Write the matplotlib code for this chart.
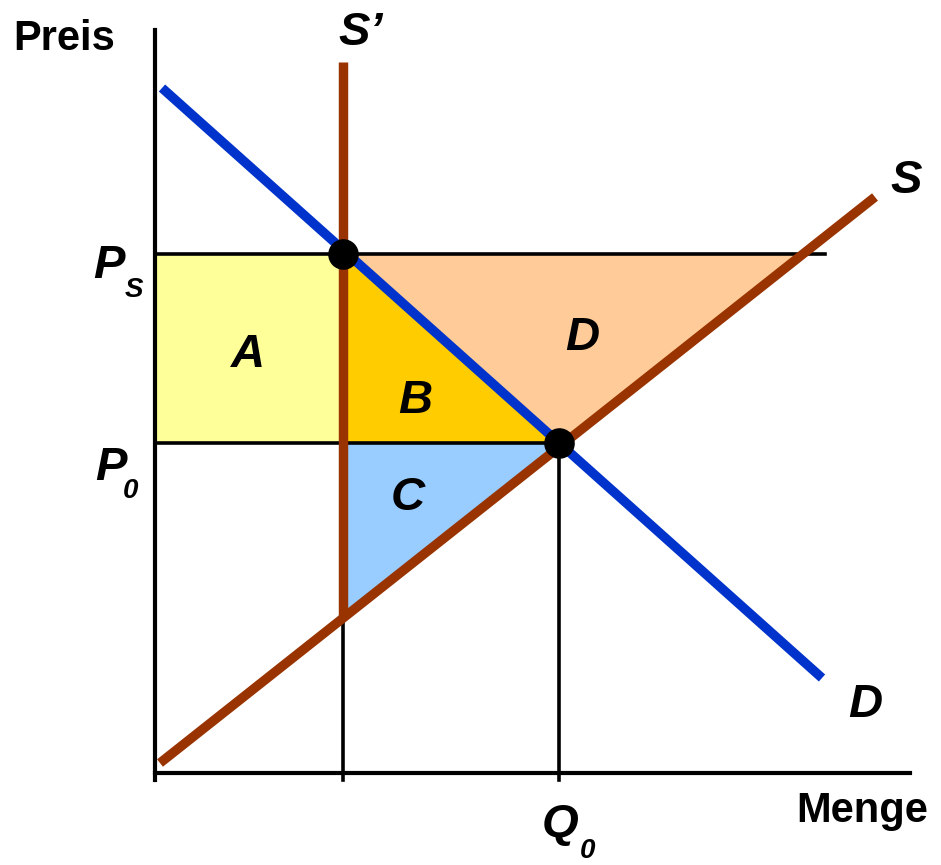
import matplotlib
matplotlib.use("Agg")
import matplotlib.pyplot as plt
import numpy as np

# Data (chart units, origin at axis corner)
q_cap = 188          # quota quantity (S' vertical)
q0 = 404             # equilibrium quantity
p_s = 519            # price with quota
p0 = 330             # equilibrium price

demand_x = [7, 667]
demand_y = [685, 95]
supply_x = [5, 720]
supply_y = [10, 576]
quota_y = [155, 711]

area_labels = ["A", "B", "C", "D"]

BLUE = "#0033CC"
BROWN = "#993300"
YELLOW = "#FFFF99"
GOLD = "#FFCC00"
PEACH = "#FFCC99"
LIGHTBLUE = "#99CCFF"

plt.rcParams["font.family"] = ["Liberation Sans", "DejaVu Sans"]

fig = plt.figure(figsize=(9.41, 8.65), dpi=100)
ax = fig.add_axes([0, 0, 1, 1])
ax.set_xlim(-155, 786)
ax.set_ylim(-92, 773)
ax.axis("off")


def supply_at(q):
    return np.interp(q, supply_x, supply_y)


def supply_inv(p):
    return np.interp(p, supply_y, supply_x)


# shaded areas
ax.fill([0, q_cap, q_cap, 0], [p0, p0, p_s, p_s], color=YELLOW, lw=0, zorder=1)
ax.fill([q_cap, q_cap, q0], [p_s, p0, p0], color=GOLD, lw=0, zorder=1)
ax.fill([q_cap, supply_inv(p_s), q0], [p_s, p_s, p0], color=PEACH, lw=0, zorder=1)
ax.fill([q_cap, q0, q_cap], [p0, p0, supply_at(q_cap)], color=LIGHTBLUE, lw=0, zorder=1)

# axes
ax.plot([0, 0], [-7, 743], color="black", lw=3, zorder=3)
ax.plot([0, 755], [0, 0], color="black", lw=3, zorder=3)

# guide lines
ax.plot([0, 670], [p_s, p_s], color="black", lw=2.6, zorder=3)
ax.plot([0, q0], [p0, p0], color="black", lw=2.6, zorder=3)
ax.plot([q_cap, q_cap], [-7, supply_at(q_cap)], color="black", lw=2.6, zorder=3)
ax.plot([q0, q0], [-7, p0], color="black", lw=2.6, zorder=3)

# curves
ax.plot([q_cap, q_cap], quota_y, color=BROWN, lw=6.8, solid_capstyle="butt", zorder=4)
ax.plot(supply_x, supply_y, color=BROWN, lw=6.8, solid_capstyle="butt", zorder=4)
ax.plot(demand_x, demand_y, color=BLUE, lw=6.8, solid_capstyle="butt", zorder=5)

ax.plot([q_cap, q0], [p_s, p0], "o", color="black", ms=21, zorder=6)

# labels
ax.text(-142, 723, "Preis", fontsize=30, fontweight="bold", ha="left", va="baseline")
ax.text(773, -49, "Menge", fontsize=30, fontweight="bold", ha="right", va="baseline")

bi = dict(fontsize=34, fontweight="bold", fontstyle="italic", va="baseline")
sub = dict(fontsize=20, fontweight="bold", fontstyle="italic", va="baseline")

ax.text(183, 728, "S\u2019", ha="left", **bi)
ax.text(735, 580, "S", ha="left", **bi)
ax.text(693, 56, "D", ha="left", **bi)

ax.text(-62, 495, "P", ha="left", **bi)
ax.text(-30, 476, "S", ha="left", **sub)
ax.text(-60, 293, "P", ha="left", **bi)
ax.text(-32, 275, "0", ha="left", **sub)
ax.text(387, -64, "Q", ha="left", **bi)
ax.text(425, -85, "0", ha="left", **sub)

label_x = [93, 260, 253, 427]
label_y = [406, 360, 263, 423]
for lab, lx, ly in zip(area_labels, label_x, label_y):
    ax.text(lx, ly, lab, ha="center", **bi)

fig.savefig("out.png", dpi=100)
